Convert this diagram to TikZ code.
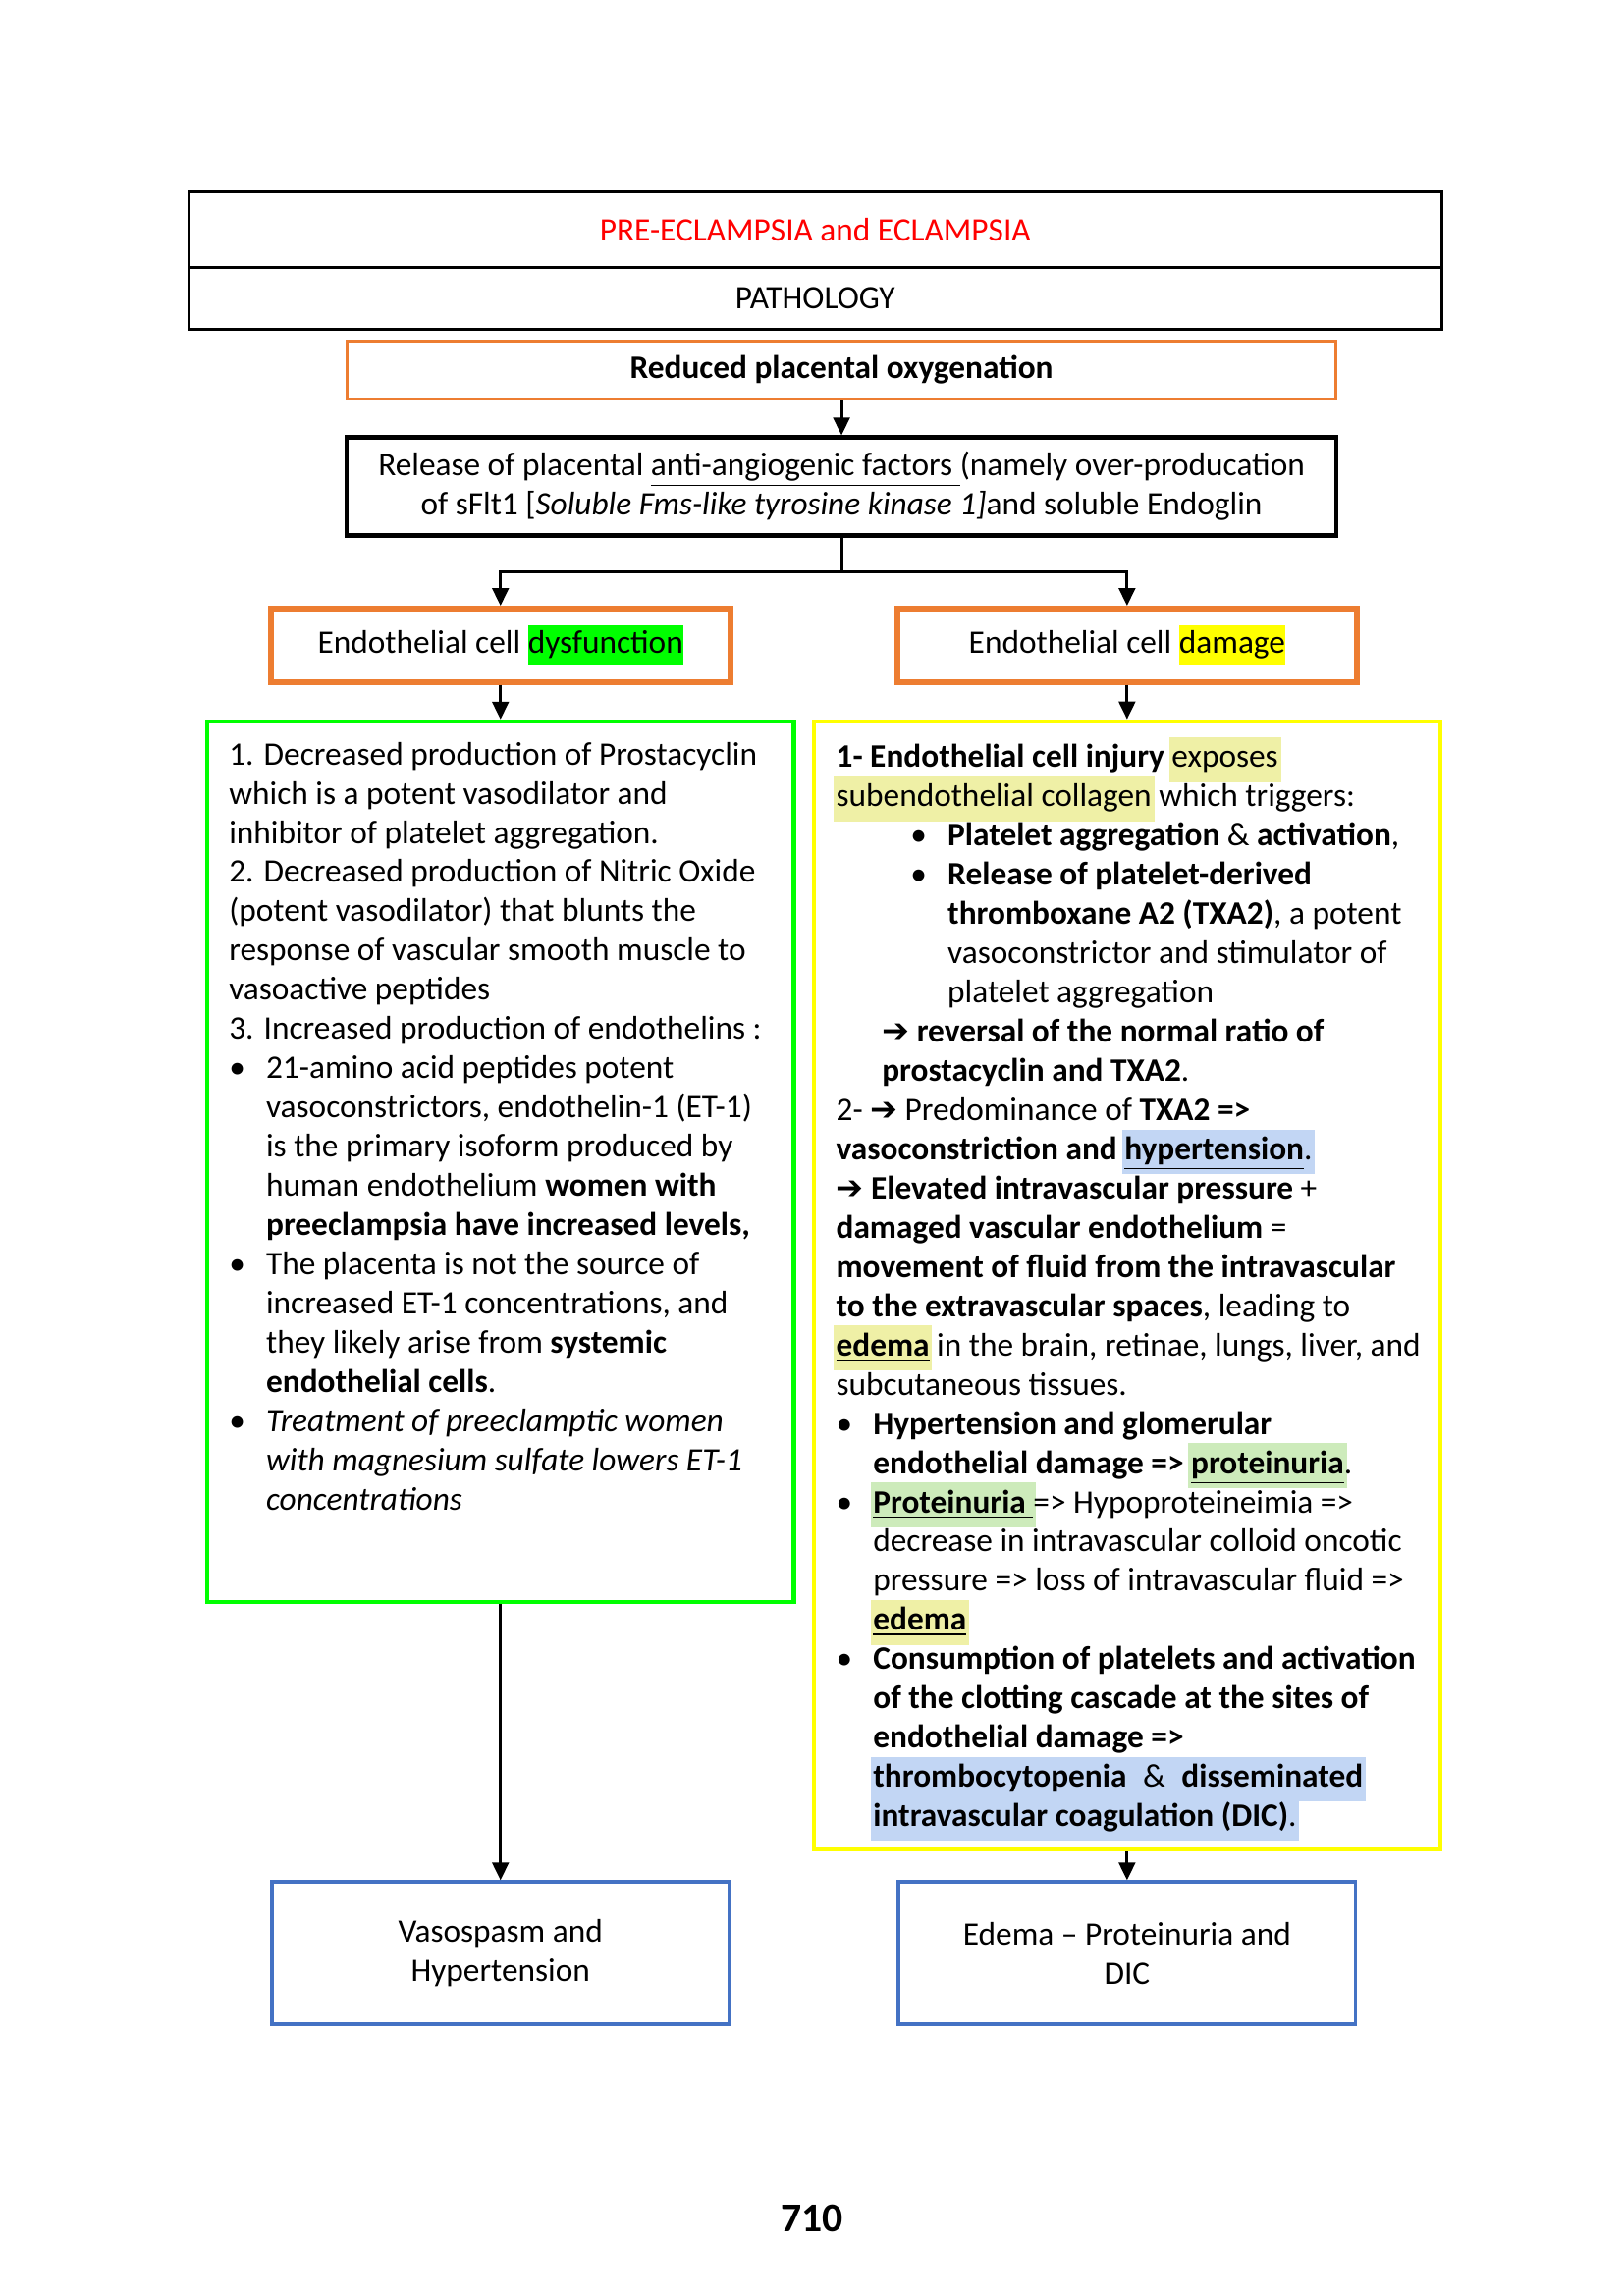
\documentclass[tikz,border=0pt]{standalone}
\usepackage{fontspec}
\setmainfont{Carlito}
\newfontfamily\arrowfont{DejaVu Sans}
\usetikzlibrary{arrows.meta}

\definecolor{boxorange}{HTML}{ED7D31}
\definecolor{boxblue}{HTML}{4472C4}
\definecolor{boxgreen}{HTML}{00FF00}
\definecolor{boxyellow}{HTML}{FFFF00}
\definecolor{titlered}{HTML}{FF0000}
\definecolor{glowyellow}{HTML}{EFF0A6}
\definecolor{glowblue}{HTML}{C2D6F4}
\definecolor{glowgreen}{HTML}{CDEBBB}

\newcommand\hilite[2]{{\setlength\fboxsep{0pt}\colorbox{#1}{\strut#2}}}
\newcommand\glow[2]{\hspace{-1pt}{\setlength\fboxsep{1pt}\colorbox{#1}{\strut#2}}\hspace{-1pt}}
\newcommand\rarr{{\arrowfont\bfseries ➔}}
\newcommand\bul{\makebox[13.6pt][l]{•}}
\newcommand\bulind{\hspace*{13.6pt}}

\begin{document}
\begin{tikzpicture}[x=0.5412pt, y=-0.5412pt,
	font={\fontsize{12}{14.38}\selectfont\lineskiplimit=-20pt},
	titlebox/.style={draw, line width=1.1pt, minimum width=459.3pt},
	reducedbox/.style={draw=boxorange, line width=1.1pt, minimum width=362.7pt, minimum height=21.4pt},
	releasebox/.style={draw, line width=1.6pt, minimum width=362.7pt, minimum height=35.9pt, align=center},
	cellbox/.style={draw=boxorange, line width=2.2pt, minimum width=168.5pt, minimum height=26.8pt},
	outcomebox/.style={draw=boxblue, line width=1.2pt, minimum width=167.6pt, minimum height=52.2pt, align=center},
	textblock/.style={align=left, inner sep=0pt, anchor=north west},
	link/.style={-{Triangle[length=6.5pt,width=6pt]}, line width=1.1pt}]
				\useasboundingbox (0,0) rectangle (1100,1555.6);
				%title
				\node[titlebox, minimum height=27.7pt, text=titlered] (title) at (552.2,155.5) {PRE-ECLAMPSIA and ECLAMPSIA};
				\node[titlebox, minimum height=22.6pt] (pathology) at (552.2,202) {PATHOLOGY};
				%cause
				\node[reducedbox] (reduced) at (570,250.8) {\textbf{Reduced placental oxygenation}};
				\node[releasebox] (release) at (570,329.6) {Release of placental \underline{anti-angiogenic factors }(namely over-producation\\of sFlt1 [\textit{Soluble Fms-like tyrosine kinase 1]}and soluble Endoglin};
				\draw[link] (reduced) -- (release);
				%split into the two branches
				\coordinate (split) at (570,387.6);
				\node[cellbox] (dyscell) at (339,437.2) {Endothelial cell \hilite{boxgreen}{dysfunction}};
				\node[cellbox] (damcell) at (763.4,437.2) {Endothelial cell \hilite{boxyellow}{damage}};
				\draw[line width=1.1pt] (release) -- (split);
				\draw[link] (split) -| (dyscell);
				\draw[link] (split) -| (damcell);
				%dysfunction branch
				\node[draw=boxgreen, line width=1.5pt, minimum width=215.1pt, minimum height=323pt] (dysbox) at (339,787.2) {};
				\node[textblock] (dystext) at (154.8,499.2) {\strut 1. Decreased production of Prostacyclin\\
which is a potent vasodilator and\\
inhibitor of platelet aggregation.\\
2. Decreased production of Nitric Oxide\\
(potent vasodilator) that blunts the\\
response of vascular smooth muscle to\\
vasoactive peptides\\
3. Increased production of endothelins :\\
\bul 21-amino acid peptides potent\\
\bulind vasoconstrictors, endothelin-1 (ET-1)\\
\bulind is the primary isoform produced by\\
\bulind human endothelium \textbf{women with}\\
\bulind \textbf{preeclampsia have increased levels,}\\
\bul The placenta is not the source of\\
\bulind increased ET-1 concentrations, and\\
\bulind they likely arise from \textbf{systemic}\\
\bulind \textbf{endothelial cells}.\\
\bul \textit{Treatment of preeclamptic women}\\
\bulind \textit{with magnesium sulfate lowers ET-1}\\
\bulind \textit{concentrations}};
				%damage branch
				\node[draw=boxyellow, line width=1.5pt, minimum width=229.6pt, minimum height=413.7pt] (dambox) at (763.4,870.9) {};
				\node[textblock] (damtext) at (566,499.2) {\strut\textbf{1- Endothelial cell injury} \glow{glowyellow}{exposes}\\
\glow{glowyellow}{subendothelial collagen} which triggers:\\
\hspace*{27.3pt}\bul\textbf{Platelet aggregation} \& \textbf{activation},\\
\hspace*{27.3pt}\bul\textbf{Release of platelet-derived}\\
\hspace*{40.9pt}\textbf{thromboxane A2 (TXA2)}, a potent\\
\hspace*{40.9pt}vasoconstrictor and stimulator of\\
\hspace*{40.9pt}platelet aggregation\\
\hspace*{16.8pt}\textbf{\rarr\ reversal of the normal ratio of}\\
\hspace*{16.8pt}\textbf{prostacyclin and TXA2}.\\
2- \rarr\ Predominance of \textbf{TXA2 =>}\\
\textbf{vasoconstriction and} \glow{glowblue}{\textbf{\underline{hypertension}}.}\\
\textbf{\rarr\ Elevated intravascular pressure} +\\
\textbf{damaged vascular endothelium} =\\
\textbf{movement of fluid from the intravascular}\\
\textbf{to the extravascular spaces}, leading to\\
\glow{glowyellow}{\textbf{\underline{edema}}} in the brain, retinae, lungs, liver, and\\
subcutaneous tissues.\\
\bul\textbf{Hypertension and glomerular}\\
\bulind\textbf{endothelial damage =>} \glow{glowgreen}{\textbf{\underline{proteinuria}}}.\\
\bul\glow{glowgreen}{\textbf{\underline{Proteinuria }}}=> Hypoproteineimia =>\\
\bulind decrease in intravascular colloid oncotic\\
\bulind pressure => loss of intravascular fluid =>\\
\bulind\glow{glowyellow}{\textbf{\underline{edema}}}\\
\bul\textbf{Consumption of platelets and activation}\\
\bulind\textbf{of the clotting cascade at the sites of}\\
\bulind\textbf{endothelial damage =>}\\
\bulind\glow{glowblue}{\textbf{thrombocytopenia}\enspace\&\enspace\textbf{disseminated}}\\
\bulind\glow{glowblue}{\textbf{intravascular coagulation (DIC)}.}};
				\draw[link] (dyscell) -- (dysbox);
				\draw[link] (damcell) -- (dambox);
				%outcomes
				\node[outcomebox] (vaso) at (339,1323.2) {Vasospasm and\\Hypertension};
				\node[outcomebox] (edema) at (763.4,1323.2) {Edema -- Proteinuria and\\DIC};
				\draw[link] (dysbox) -- (vaso);
				\draw[link] (dambox) -- (edema);
				%page number
				\node[font={\fontsize{15}{18}\selectfont\bfseries}] (page) at (550.2,1503.3) {710};
			\end{tikzpicture}
\end{document}
